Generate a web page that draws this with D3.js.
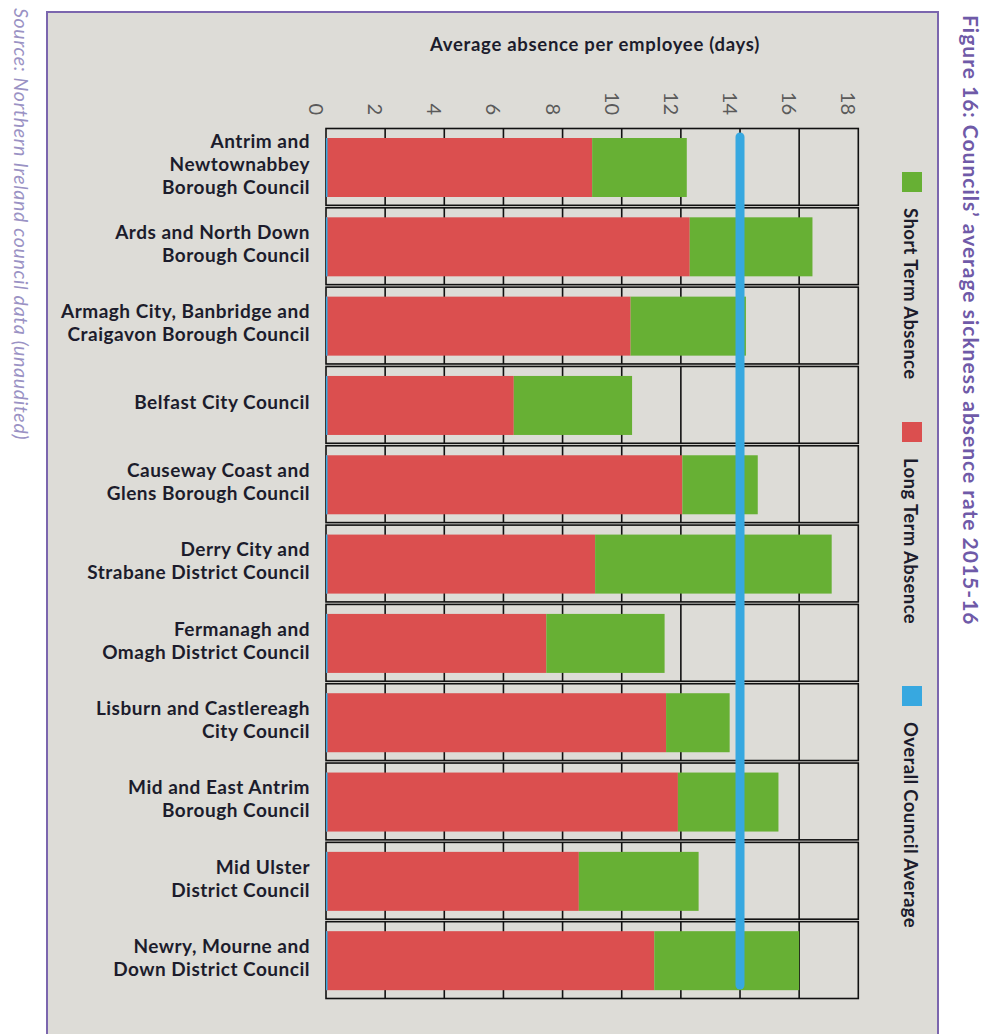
<!DOCTYPE html>
<html lang="en">
<head>
  <meta charset="UTF-8">
  <title>Councils' average sickness absence rate 2015-16</title>
  <script src="https://d3js.org/d3.v7.min.js"></script>
  <style>
    body { margin: 0; background: #fff; }
    svg { display: block; font-family: "Lato", sans-serif; }
  </style>
</head>
<body>
  <div id="chart"></div>

  <script>
    // Data (days per employee)
    const councils = [
      "Antrim and|Newtownabbey|Borough Council",
      "Ards and North Down|Borough Council",
      "Armagh City, Banbridge and|Craigavon Borough Council",
      "Belfast City Council",
      "Causeway Coast and|Glens Borough Council",
      "Derry City and|Strabane District Council",
      "Fermanagh and|Omagh District Council",
      "Lisburn and Castlereagh|City Council",
      "Mid and East Antrim|Borough Council",
      "Mid Ulster|District Council",
      "Newry, Mourne and|Down District Council"
    ];
    const longTerm  = [9.0, 12.3, 10.3, 6.35, 12.05, 9.1, 7.45, 11.5, 11.9, 8.55, 11.1];
    const shortTerm = [3.2, 4.15, 3.9, 4.0, 2.55, 8.0, 4.0, 2.15, 3.4, 4.05, 4.9];
    const councilAverage = 14.0;
    const xTicks = [0, 2, 4, 6, 8, 10, 12, 14, 16, 18];

    const width = 986;
    const height = 1034;

    const colors = {
      short: "#67b034",
      long: "#db4f4f",
      avg: "#37a8e0",
      panel: "#dddcd7",
      frame: "#7b66ae"
    };

    const svg = d3.select("#chart")
      .append("svg")
      .attr("width", width)
      .attr("height", height);

    // Panel with purple frame (runs off the bottom of the page)
    svg.append("rect")
      .attr("x", 47)
      .attr("y", 12)
      .attr("width", 891)
      .attr("height", 1040)
      .attr("fill", colors.panel)
      .attr("stroke", colors.frame)
      .attr("stroke-width", 2);

    const x = d3.scaleLinear().domain([0, 18]).range([326, 858.3]);
    const y = d3.scaleBand().domain(councils).range([127.5, 1000]);
    const step = y.bandwidth();

    // Axis title
    svg.append("text")
      .attr("x", 595)
      .attr("y", 51)
      .attr("text-anchor", "middle")
      .attr("font-size", 18.5)
      .attr("font-weight", 700)
      .attr("letter-spacing", 0.7)
      .attr("fill", "#1c1c2c")
      .text("Average absence per employee (days)");

    // Tick labels, rotated
    svg.append("g")
      .selectAll("text")
      .data(xTicks)
      .join("text")
      .attr("transform", d => `translate(${x(d) - 17},115) rotate(90)`)
      .attr("text-anchor", "end")
      .attr("font-size", 20)
      .attr("fill", "#5a5a5a")
      .text(d => d);

    // One boxed row per council with its own gridlines
    const rows = svg.append("g")
      .selectAll("g")
      .data(councils)
      .join("g")
      .attr("transform", d => `translate(0,${y(d)})`);

    rows.append("rect")
      .attr("x", x(0))
      .attr("y", 1)
      .attr("width", x(18) - x(0))
      .attr("height", step - 2.5)
      .attr("fill", "none")
      .attr("stroke", "#111")
      .attr("stroke-width", 1.6);

    rows.selectAll("line")
      .data(xTicks.slice(1, -1))
      .join("line")
      .attr("x1", d => x(d))
      .attr("x2", d => x(d))
      .attr("y1", 1)
      .attr("y2", step - 1.5)
      .attr("stroke", "#111")
      .attr("stroke-width", 1.6);

    const barTop = 10.5;
    const barH = 59;

    rows.append("rect")
      .attr("x", x(0))
      .attr("y", barTop)
      .attr("width", (d, i) => x(longTerm[i]) - x(0))
      .attr("height", barH)
      .attr("fill", colors.long);

    rows.append("rect")
      .attr("x", (d, i) => x(longTerm[i]))
      .attr("y", barTop)
      .attr("width", (d, i) => x(longTerm[i] + shortTerm[i]) - x(longTerm[i]))
      .attr("height", barH)
      .attr("fill", colors.short);

    // thin blue edge at the bar start
    rows.append("rect")
      .attr("x", x(0))
      .attr("y", barTop)
      .attr("width", 1.5)
      .attr("height", barH)
      .attr("fill", colors.avg);

    // Category labels
    const labels = rows.append("text")
      .attr("text-anchor", "end")
      .attr("font-size", 19)
      .attr("font-weight", 700)
      .attr("letter-spacing", 0.5)
      .attr("fill", "#1c1c2c");

    labels.each(function(d) {
      const lines = d.split("|");
      const first = step / 2 + 4 - (lines.length - 1) * 11.5;
      d3.select(this).selectAll("tspan")
        .data(lines)
        .join("tspan")
        .attr("x", 310)
        .attr("y", (l, j) => first + j * 23)
        .text(l => l);
    });

    // Overall council average line
    svg.append("line")
      .attr("x1", x(councilAverage))
      .attr("x2", x(councilAverage))
      .attr("y1", 137)
      .attr("y2", 985)
      .attr("stroke", colors.avg)
      .attr("stroke-width", 9)
      .attr("stroke-linecap", "round");

    // Legend (rotated)
    const legend = [
      { label: "Short Term Absence", color: colors.short, y: 172 },
      { label: "Long Term Absence", color: colors.long, y: 422 },
      { label: "Overall Council Average", color: colors.avg, y: 686 }
    ];

    const lg = svg.append("g")
      .selectAll("g")
      .data(legend)
      .join("g");

    lg.append("rect")
      .attr("x", 902)
      .attr("y", d => d.y)
      .attr("width", 20)
      .attr("height", 20)
      .attr("fill", d => d.color);

    lg.append("text")
      .attr("transform", d => `translate(904,${d.y + 36}) rotate(90)`)
      .attr("font-size", 18.5)
      .attr("font-weight", 700)
      .attr("letter-spacing", 0.4)
      .attr("fill", "#1c1c2c")
      .text(d => d.label);

    // Figure title on the right
    svg.append("text")
      .attr("transform", "translate(963,15) rotate(90)")
      .attr("font-size", 21)
      .attr("font-weight", 700)
      .attr("letter-spacing", 1)
      .attr("fill", "#6f5aa8")
      .text("Figure 16: Councils\u2019 average sickness absence rate 2015-16");

    // Source note on the left
    svg.append("text")
      .attr("transform", "translate(14,8) rotate(90)")
      .attr("font-size", 19.5)
      .attr("font-style", "italic")
      .attr("letter-spacing", 0.7)
      .attr("fill", "#9a92c4")
      .text("Source: Northern Ireland council data (unaudited)");
  </script>
</body>
</html>
